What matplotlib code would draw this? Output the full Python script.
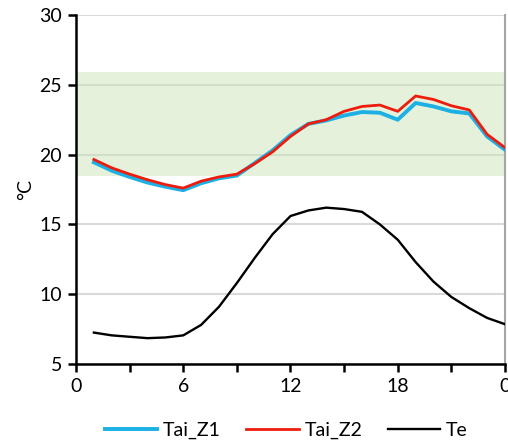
import matplotlib.pyplot as plt

plt.rcParams['font.family'] = ['Lato', 'DejaVu Sans']

hours = list(range(1, 25))
tai_z1 = [19.45, 18.85, 18.4, 18.0, 17.7, 17.45, 17.95, 18.3, 18.5, 19.4, 20.3, 21.4,
          22.2, 22.45, 22.8, 23.05, 23.0, 22.5, 23.7, 23.45, 23.1, 22.95, 21.3, 20.35]
tai_z2 = [19.65, 19.05, 18.6, 18.2, 17.85, 17.6, 18.1, 18.4, 18.6, 19.35, 20.2, 21.3,
          22.2, 22.5, 23.1, 23.45, 23.55, 23.1, 24.2, 23.95, 23.5, 23.2, 21.45, 20.5]
te = [7.25, 7.05, 6.95, 6.85, 6.9, 7.05, 7.8, 9.1, 10.8, 12.6, 14.3, 15.6,
      16.0, 16.2, 16.1, 15.9, 15.0, 13.9, 12.3, 10.9, 9.8, 9.0, 8.3, 7.85]
band = (18.5, 25.9)
xticks = [0, 3, 6, 9, 12, 15, 18, 21, 24]
xlabels = ['0', '', '6', '', '12', '', '18', '', '0']

fig = plt.figure(figsize=(5.08, 4.42), dpi=100)
ax = fig.add_axes([0.1496, 0.1765, 0.9941 - 0.1496, 0.966 - 0.1765])

ax.set_axisbelow(True)
ax.grid(axis='y', color='#d9d9d9', linewidth=1.5, zorder=0)
ax.axhspan(band[0], band[1], color='#cde5b9', alpha=0.5, lw=0, zorder=1)

ax.plot(hours, tai_z1, color='#1cb0e4', lw=2.8, label='Tai_Z1', zorder=3,
        solid_joinstyle='round')
ax.plot(hours, tai_z2, color='#ee1c0c', lw=2.0, label='Tai_Z2', zorder=4,
        solid_joinstyle='round')
ax.plot(hours, te, color='black', lw=1.7, label='Te', zorder=4,
        solid_joinstyle='round')

ax.set_xlim(0, 24)
ax.set_ylim(5, 30)
ax.set_yticks([5, 10, 15, 20, 25, 30])
ax.set_xticks(xticks)
ax.set_xticklabels(xlabels)
ax.tick_params(labelsize=14, width=1.8, length=6, direction='out', pad=4)

for s in ['left', 'bottom']:
    ax.spines[s].set_linewidth(1.8)
ax.spines['top'].set_visible(False)
ax.spines['right'].set_color('#a6a6a6')
ax.spines['right'].set_linewidth(1.5)

ax.set_ylabel('°C', fontsize=14, labelpad=4)

ax.legend(loc='upper center', bbox_to_anchor=(0.49, -0.115), ncol=3, frameon=False,
          fontsize=14, handlelength=2.7, columnspacing=1.3, handletextpad=0.3)

fig.savefig('out.png', dpi=100)
